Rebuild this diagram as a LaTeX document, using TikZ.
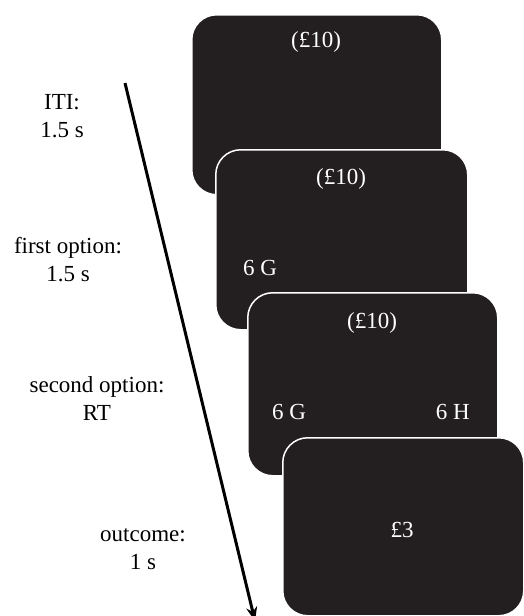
\documentclass[tikz,border=0pt]{standalone}
\usepackage{fontspec}
\setmainfont{Liberation Serif}
\usetikzlibrary{arrows.meta}
\definecolor{screen}{RGB}{35,31,32}
\begin{document}
\begin{tikzpicture}[x=1pt,y=-1pt,
  screenbox/.style={draw=white, line width=1.5pt, fill=screen, rounded corners=25pt,
    minimum height=180pt, inner sep=0pt, anchor=north west},
  screentext/.style={text=white, inner sep=0pt, font=\fontsize{23}{28}\selectfont},
  phaselabel/.style={align=center, inner sep=0pt, font=\fontsize{23}{28}\selectfont},
  timearrow/.style={line width=3pt, -{Stealth[length=14pt,width=11pt]}}]
\useasboundingbox (0,0) rectangle (523,616);
% screens
\node[screenbox, minimum width=250pt] (b1) at (191,14) {};
\node[screentext] (t1) at (316,42) {(£10)};
\node[screenbox, minimum width=252pt] (b2) at (215,149) {};
\node[screentext] (t2) at (341,179) {(£10)};
\node[screentext, anchor=west] (g2) at (243,268) {6 G};
\node[screenbox, minimum width=250pt, minimum height=183pt] (b3) at (247,292) {};
\node[screentext] (t3) at (372,323) {(£10)};
\node[screentext, anchor=west] (g3) at (272,412) {6 G};
\node[screentext, anchor=east] (h3) at (470,412) {6 H};
\node[screenbox, minimum width=241pt, minimum height=178pt] (b4) at (282,437) {};
\node[screentext] (t4) at (402,530) {£3};
% phase labels
\node[phaselabel] (l1) at (62,116.5) {ITI:\\1.5 s};
\node[phaselabel] (l2) at (68,259.5) {first option:\\1.5 s};
\node[phaselabel] (l3) at (97,399) {second option:\\RT};
\node[phaselabel] (l4) at (143,549) {outcome:\\1 s};
% time arrow
\coordinate (tstart) at (125,83);
\coordinate (tend) at (255,621);
\draw[timearrow] (tstart) -- (tend);
\end{tikzpicture}
\end{document}
